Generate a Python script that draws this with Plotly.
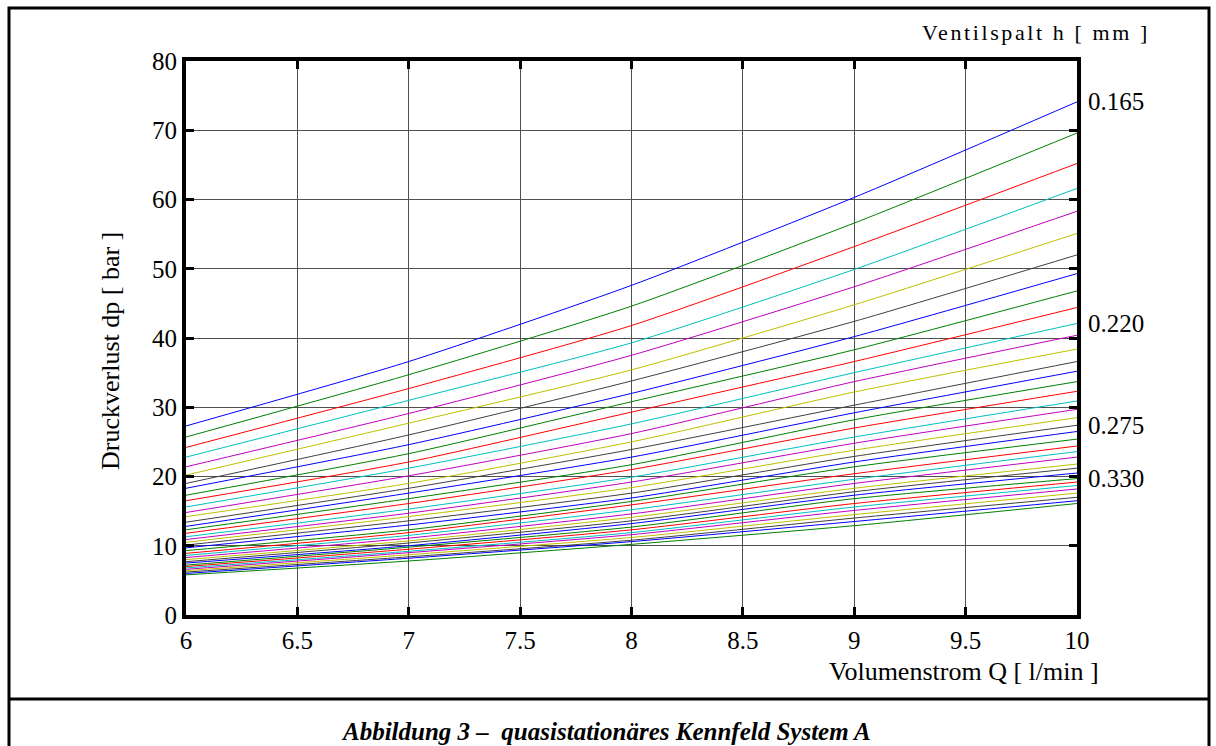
import plotly.graph_objects as go

# Volumenstrom Q [l/min] sample points
q_values = [6, 7, 8, 9, 10]

# Druckverlust dp [bar] for each of the 37 characteristic curves (top to bottom)
dp_q6 = [27.3, 25.7, 24.2, 22.8, 21.4, 20.2, 19.0, 18.3, 17.3, 16.5, 15.6, 14.8, 14.2,
         13.4, 12.8, 12.3, 11.8, 11.3, 10.9, 10.5, 10.1, 9.7, 9.3, 8.9, 8.6, 8.3, 8.0,
         7.7, 7.5, 7.2, 7.0, 6.8, 6.6, 6.4, 6.2, 6.0, 5.8]
dp_q7 = [36.6, 34.7, 32.7, 31.0, 29.1, 27.7, 26.0, 24.6, 23.3, 22.1, 21.2, 20.1, 19.0,
         18.3, 17.6, 16.8, 16.1, 15.3, 14.7, 14.2, 13.6, 13.0, 12.3, 11.9, 11.5, 11.1,
         10.7, 10.4, 10.0, 9.8, 9.5, 9.2, 9.0, 8.7, 8.4, 8.2, 7.8]
dp_q8 = [47.6, 44.6, 41.8, 39.3, 37.5, 35.4, 33.8, 32.0, 30.8, 29.3, 27.6, 26.2, 25.0,
         23.9, 22.8, 21.7, 21.0, 19.9, 19.2, 18.4, 17.6, 16.9, 16.4, 15.9, 15.2, 14.6,
         14.1, 13.6, 13.2, 12.7, 12.3, 11.9, 11.6, 11.2, 10.8, 10.6, 10.2]
dp_q9 = [60.3, 56.6, 53.2, 49.9, 47.4, 44.8, 42.4, 40.2, 38.3, 36.6, 35.0, 33.7, 32.2,
         30.3, 29.2, 28.2, 27.0, 25.7, 24.8, 23.8, 22.9, 22.1, 21.4, 20.4, 19.6, 19.0,
         18.3, 17.8, 17.3, 16.8, 16.1, 15.6, 15.1, 14.5, 14.0, 13.5, 12.9]
dp_q10 = [74.1, 69.6, 65.2, 61.6, 58.3, 55.1, 52.0, 49.3, 46.8, 44.4, 42.1, 40.4, 38.4,
          36.6, 35.2, 33.7, 32.3, 30.9, 29.7, 28.5, 27.4, 26.5, 25.4, 24.4, 23.6, 22.8,
          21.8, 21.2, 20.5, 19.7, 19.2, 18.7, 18.2, 17.6, 17.0, 16.5, 16.1]

# colour cycle of the curves
line_colors = ["#0000FF", "#008000", "#FF0000", "#00BFBF", "#BF00BF", "#BFBF00", "#404040"]

# Ventilspalt labels and the curve each one sits next to
gap_labels = ["0.165", "0.220", "0.275", "0.330"]
gap_label_curves = [0, 10, 20, 29]

x_ticks = [6, 6.5, 7, 7.5, 8, 8.5, 9, 9.5, 10]
x_ticktext = ["6", "6.5", "7", "7.5", "8", "8.5", "9", "9.5", "10"]
y_ticks = [0, 10, 20, 30, 40, 50, 60, 70, 80]

FONT = "Liberation Serif"
W, H = 1216, 746
ML, MR, MT, MB = 186, 139, 61, 131
PW, PH = W - ML - MR, H - MT - MB


def px(x):
    return (x - ML) / PW


def py(y):
    return (H - MB - y) / PH


fig = go.Figure()
for i in range(len(dp_q6)):
    ys = [dp_q6[i], dp_q7[i], dp_q8[i], dp_q9[i], dp_q10[i]]
    fig.add_trace(go.Scatter(
        x=q_values, y=ys, mode="lines", line_shape="spline",
        line=dict(color=line_colors[i % len(line_colors)], width=1, smoothing=0.6),
        showlegend=False, hoverinfo="skip"))

annotations = []
for lab, idx in zip(gap_labels, gap_label_curves):
    annotations.append(dict(
        x=px(1086), xref="paper", y=dp_q10[idx], yref="y",
        text=lab, showarrow=False, xanchor="left", yanchor="middle",
        font=dict(family=FONT, size=25, color="black")))

annotations += [
    dict(x=px(1152), xref="paper", y=py(33), yref="paper",
         text='<span style="letter-spacing:2.6px">Ventilspalt h [ mm ]</span>',
         showarrow=False, xanchor="right", yanchor="middle",
         font=dict(family=FONT, size=22, color="black")),
    dict(x=px(1101), xref="paper", y=py(671), yref="paper", text="Volumenstrom Q [ l/min ]",
         showarrow=False, xanchor="right", yanchor="middle",
         font=dict(family=FONT, size=26, color="black")),
    dict(x=px(110), xref="paper", y=py(351), yref="paper", text="Druckverlust dp [ bar ]",
         showarrow=False, textangle=-90, xanchor="center", yanchor="middle",
         font=dict(family=FONT, size=26, color="black")),
    dict(x=px(606), xref="paper", y=py(731), yref="paper",
         text="<b><i>Abbildung 3 –  quasistationäres Kennfeld System A</i></b>",
         showarrow=False, xanchor="center", yanchor="middle",
         font=dict(family=FONT, size=25, color="black")),
]

shapes = [
    dict(type="rect", xref="paper", yref="paper", x0=px(9), x1=px(1209), y0=py(760), y1=py(8),
         line=dict(color="black", width=3), fillcolor="rgba(0,0,0,0)", layer="above"),
    dict(type="line", xref="paper", yref="paper", x0=px(9), x1=px(1209), y0=py(699), y1=py(699),
         line=dict(color="black", width=3), layer="above"),
]

axis_common = dict(
    showline=True, linecolor="black", linewidth=4, mirror="allticks",
    ticks="inside", ticklen=8, tickwidth=3, tickcolor="black",
    showgrid=True, gridcolor="#505050", gridwidth=1, zeroline=False,
    tickfont=dict(family=FONT, size=25, color="black"),
)

fig.update_layout(
    width=W, height=H,
    margin=dict(l=ML, r=MR, t=MT, b=MB, pad=0),
    paper_bgcolor="white", plot_bgcolor="white",
    xaxis=dict(range=[6, 10], tickvals=x_ticks, ticktext=x_ticktext, **axis_common),
    yaxis=dict(range=[0, 80], tickvals=y_ticks, **axis_common),
    annotations=annotations, shapes=shapes,
)

fig.write_html("out.html")
